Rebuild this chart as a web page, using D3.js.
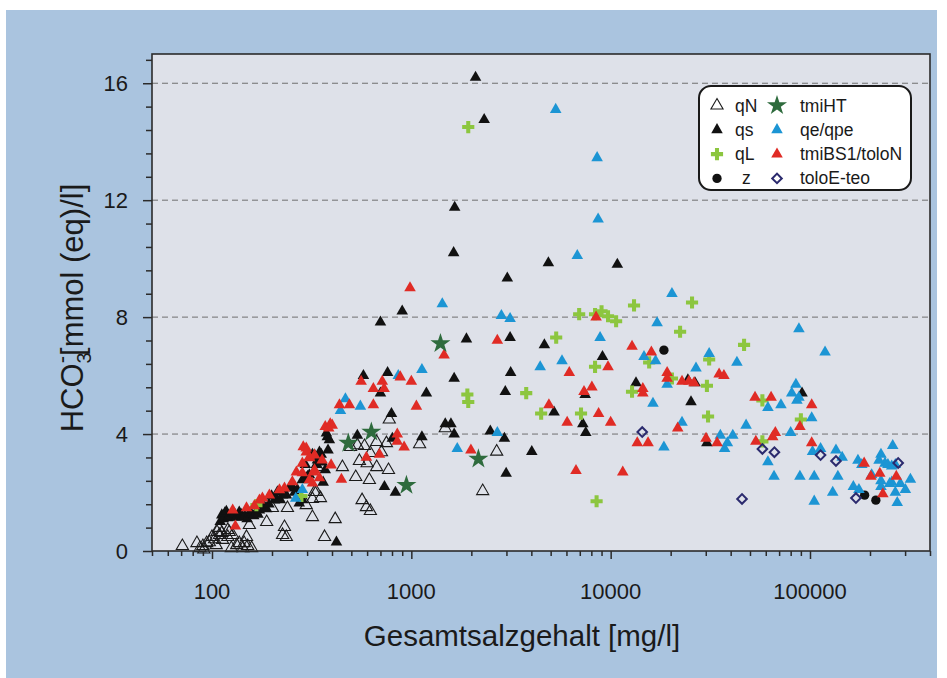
<!DOCTYPE html>
<html>
<head>
<meta charset="utf-8">
<script src="https://cdn.jsdelivr.net/npm/d3@7"></script>
<style>
  html, body { margin: 0; padding: 0; background: #ffffff; }
  svg { display: block; }
  text { font-family: "Liberation Sans", Arial, Helvetica, sans-serif; fill: #1a1a1a; }
</style>
</head>
<body>
<svg id="chart" width="947" height="678"></svg>
<script>
// Gesamtsalzgehalt [mg/l] vs. HCO3- [mmol(eq)/l], one array of [TDS, HCO3] pairs per group

const qN = [
  [71,0.17],[84,0.27],[87,0.1],[90,0.17],[91,0.05],[94,0.27],[97,0.3],[100,0.48],[103,0.4],[105,0.2],
  [106,0.65],[108,0.79],[109,0.55],[112,0.62],[113,0.38],[120,0.72],[120,0.48],[122,0.65],[127,0.55],
  [133,0.2],[137,0.27],[145,0.27],[149,0.48],[151,0.17],[154,0.89],[143,0.1],[125,0.1],[158,0.1],
  [188,0.99],[201,1.47],[226,0.55],[231,0.82],[236,0.48],[239,1.47],[297,1.57],[319,1.16],[334,2.02],
  [327,2.02],[319,1.78],[350,1.81],[415,1.09],[367,0.48],[338,2.87],[451,2.87],[526,2.53],[616,2.43],
  [549,3.08],[600,3.0],[623,3.35],[670,2.87],[768,2.77],[708,3.38],[670,3.73],[750,3.69],[582,3.59],
  [536,3.62],[496,3.56],[566,1.74],[595,1.5],[623,1.37],[775,4.5],[1480,4.2],[1100,3.65],[2680,3.4],
  [2280,2.05]
];

const qs = [
  [2100,16.2],[2320,14.75],[1650,11.75],[1630,10.2],[3030,9.33],[4870,9.85],[10800,9.8],[900,8.2],
  [700,7.83],[1890,7.25],[3130,7.3],[4650,7.05],[3150,6.1],[1640,5.9],[2960,5.45],[575,6.0],[760,6.1],
  [700,5.4],[1190,5.4],[795,4.7],[9100,6.65],[13400,5.75],[24400,5.85],[26500,5.75],[25300,5.1],
  [7450,5.35],[5200,4.75],[7250,4.35],[7500,4.05],[4020,3.4],[30400,3.7],[91200,5.4],[1480,4.35],
  [1580,4.35],[1640,4.0],[2490,4.1],[2930,3.85],[2990,2.65],[1130,3.9],[803,3.85],[536,3.95],[733,2.2],
  [832,2.0],[421,0.3],[319,3.3],[353,3.3],[294,2.95],[334,2.95],[302,2.55],[361,2.35],[284,1.75],
  [375,4.03],[379,3.9],[110,1.0],[112,1.23],[114,1.1],[116,1.3],[118,1.35],[120,1.13],[122,1.16],
  [125,1.2],[128,1.3],[130,1.26],[133,1.15],[137,1.33],[140,1.25],[142,1.16],[146,1.2],[150,1.1],
  [154,1.3],[158,1.26],[162,1.2],[167,1.33],[170,1.25],[173,1.4],[178,1.45],[184,1.5],[188,1.44],
  [193,1.6],[199,1.88],[206,1.74],[210,1.8],[213,2.02],[220,1.75],[226,1.91],[230,2.0],[236,1.91],
  [244,2.15],[253,2.19],[260,2.0],[268,2.1],[274,1.64],[284,2.43],[297,2.5],[308,2.6],[327,3.28],
  [338,3.11],[346,3.38],[357,3.04],[370,2.77],[382,3.45],[388,3.8]
];

const qL = [
  [1930,14.5],[1910,5.35],[1930,5.1],[3770,5.4],[4480,4.7],[5330,7.3],[6950,8.1],[8350,8.1],[9000,8.2],
  [9700,8.03],[10650,7.86],[13100,8.4],[25600,8.5],[22300,7.5],[46700,7.05],[31200,6.55],[15600,6.45],
  [8350,6.3],[20300,5.9],[30400,5.65],[12800,5.45],[7100,4.7],[30800,4.6],[57700,5.15],[57700,3.75],
  [90000,4.5],[8500,1.7],[281,1.88],[167,1.57]
];

const z = [[18500,6.87],[188000,1.91],[214000,1.74]];

const tmiHT = [[1400,7.1],[630,4.07],[483,3.69],[2170,3.15],[945,2.25]];

const qe = [
  [5300,15.1],[8550,13.45],[8650,11.35],[6800,10.1],[20300,8.8],[1430,8.45],[2830,8.05],[3130,7.95],
  [17100,7.8],[88000,7.6],[119000,6.8],[8850,7.3],[31200,6.75],[43000,6.45],[4430,6.3],[5700,6.5],
  [14700,6.65],[16800,6.5],[26800,6.25],[19200,5.7],[16300,5.05],[22800,4.4],[47800,4.3],[61500,4.9],
  [71500,5.0],[85000,5.7],[81000,5.4],[86000,5.15],[88000,5.25],[102000,4.55],[80000,4.05],[18500,3.55],
  [35500,3.95],[38500,3.7],[41000,3.95],[37300,3.5],[61500,3.05],[66000,2.55],[89000,2.55],[105000,2.55],
  [138000,2.55],[103000,3.4],[113000,3.5],[135000,3.45],[145000,3.2],[130000,2.0],[105000,1.7],
  [174000,3.1],[182000,2.95],[165000,2.2],[176000,2.1],[227000,3.3],[238000,3.0],[222000,3.1],
  [260000,3.6],[246000,2.95],[257000,2.9],[268000,2.95],[204000,2.6],[227000,2.4],[257000,2.35],
  [284000,2.3],[319000,2.45],[301000,2.1],[268000,2.0],[274000,1.65],[251000,2.3],[227000,2.2],
  [1700,3.5],[2700,4.05],[860,6.0],[1130,6.2],[467,5.2],[441,4.8],[555,4.95],[263,1.8],[284,2.1]
];

const tmiBS1 = [
  [985,9.0],[2700,7.2],[1460,6.7],[560,5.8],[645,5.55],[715,5.8],[730,5.55],[880,5.95],[1000,5.8],
  [1060,4.95],[436,5.0],[489,5.0],[645,5.0],[370,4.25],[392,4.35],[401,4.3],[385,4.2],[850,4.0],
  [850,3.75],[920,3.55],[595,3.2],[692,3.3],[446,2.45],[1990,3.45],[4900,5.0],[8450,8.0],[12800,7.0],
  [16000,6.8],[9700,6.3],[6200,6.1],[19200,6.1],[19200,5.9],[22800,5.8],[24700,5.8],[26200,5.75],
  [35000,6.05],[37000,6.0],[14500,5.55],[14500,5.4],[7350,5.45],[8050,5.6],[6050,4.4],[8700,4.7],
  [10000,4.4],[21700,4.2],[53000,5.25],[63800,5.25],[102000,5.0],[89000,4.25],[13600,3.7],[15400,3.7],
  [30100,3.85],[34200,3.7],[53500,3.75],[65000,3.9],[67000,4.05],[102000,3.7],[6700,2.75],[11500,2.7],
  [187000,3.0],[202000,2.55],[224000,2.65],[271000,2.55],[232000,1.95],
  [127,1.4],[131,0.85],[149,1.47],[163,1.54],[173,1.74],[179,1.81],[194,1.91],[218,2.09],[231,2.15],
  [253,2.36],[265,2.7],[284,3.0],[297,3.52],[308,3.21],[308,2.43],[327,2.77],[346,2.5],[287,3.56],
  [297,3.38],[308,3.18],[327,3.28],[357,3.11],[396,2.94],[323,2.7],[284,2.67],[319,2.32]
];

const toloE = [
  [14400,4.07],[45600,1.78],[57700,3.49],[66300,3.38],[113000,3.28],[135000,3.08],[170000,1.81],[277000,3.01]
];

const xMajor = [100, 1000, 10000, 100000];
const xMajorLabels = ["100", "1000", "10000", "100000"];
const yMajor = [0, 4, 8, 12, 16];
const yMajorLabels = ["0", "4", "8", "12", "16"];

const legendItems = [
  { key: "qN", col: 0, row: 0 },
  { key: "qs", col: 0, row: 1 },
  { key: "qL", col: 0, row: 2 },
  { key: "z", col: 0, row: 3 },
  { key: "tmiHT", col: 1, row: 0 },
  { key: "qe/qpe", col: 1, row: 1 },
  { key: "tmiBS1/toloN", col: 1, row: 2 },
  { key: "toloE-teo", col: 1, row: 3 }
];

// ---- layout ----
const svg = d3.select("#chart");
const plot = { left: 152, right: 930, top: 54, bottom: 551 };

const x = d3.scaleLog().domain([50, 400000]).range([plot.left, plot.right]);
const y = d3.scaleLinear().domain([0, 17]).range([plot.bottom, plot.top]);

// blue panel and plot background
svg.append("rect").attr("x", 6).attr("y", 10).attr("width", 931).attr("height", 678)
  .attr("fill", "#aac4df");
svg.append("rect").attr("x", plot.left).attr("y", plot.top)
  .attr("width", plot.right - plot.left).attr("height", plot.bottom - plot.top)
  .attr("fill", "#dee1e9");

// dashed grid at major y values
svg.append("g").selectAll("line").data(yMajor.filter(v => v > 0)).join("line")
  .attr("x1", plot.left).attr("x2", plot.right)
  .attr("y1", d => y(d)).attr("y2", d => y(d))
  .attr("stroke", "#6f6f6f").attr("stroke-width", 1).attr("stroke-dasharray", "6,4");

// symbol styles for each group
const sym = (type, size) => d3.symbol().type(type).size(size)();
const styles = {
  "qN":          { d: sym(d3.symbolTriangle, 64), fill: "none", stroke: "#1a1a1a", sw: 1.1 },
  "qs":          { d: sym(d3.symbolTriangle, 58), fill: "#111111", stroke: "none", sw: 0 },
  "qL":          { d: sym(d3.symbolCross, 82), fill: "#8cc63f", stroke: "none", sw: 0 },
  "z":           { d: sym(d3.symbolCircle, 68), fill: "#111111", stroke: "none", sw: 0 },
  "tmiHT":       { d: sym(d3.symbolStar, 125), fill: "#2e6b3d", stroke: "none", sw: 0 },
  "qe/qpe":      { d: sym(d3.symbolTriangle, 58), fill: "#1c95d4", stroke: "none", sw: 0 },
  "tmiBS1/toloN":{ d: sym(d3.symbolTriangle, 58), fill: "#e02b25", stroke: "none", sw: 0 },
  "toloE-teo":   { d: sym(d3.symbolSquare, 46), fill: "none", stroke: "#2b2a6e", sw: 2, rot: 45 }
};

const groups = [
  ["qN", qN], ["qs", qs], ["qL", qL], ["z", z], ["qe/qpe", qe],
  ["tmiBS1/toloN", tmiBS1], ["tmiHT", tmiHT], ["toloE-teo", toloE]
];

const marks = svg.append("g");
groups.forEach(([key, data]) => {
  const s = styles[key];
  marks.append("g").selectAll("path").data(data).join("path")
    .attr("d", s.d)
    .attr("transform", d => `translate(${x(d[0])},${y(d[1])})` + (s.rot ? ` rotate(${s.rot})` : ""))
    .attr("fill", s.fill).attr("stroke", s.stroke).attr("stroke-width", s.sw);
});

// plot frame
svg.append("rect").attr("x", plot.left).attr("y", plot.top)
  .attr("width", plot.right - plot.left).attr("height", plot.bottom - plot.top)
  .attr("fill", "none").attr("stroke", "#2b2b2b").attr("stroke-width", 1.6);

// x axis ticks (log): minor and major, outward
const xMinor = [];
for (let e = 1; e <= 5; e++) for (let m = 2; m <= 9; m++) {
  const v = m * Math.pow(10, e);
  if (v >= 50 && v <= 400000) xMinor.push(v);
}
const xAxisMinor = d3.axisBottom(x).tickValues(xMinor).tickSize(5).tickFormat("");
const xAxisMajor = d3.axisBottom(x).tickValues(xMajor).tickSize(8).tickFormat("");
[xAxisMinor, xAxisMajor].forEach(ax => {
  const g = svg.append("g").attr("transform", `translate(0,${plot.bottom})`).call(ax);
  g.select(".domain").remove();
  g.selectAll("line").attr("stroke", "#2b2b2b").attr("stroke-width", 1.5);
});
svg.append("g").selectAll("text").data(xMajor).join("text")
  .attr("x", d => x(d)).attr("y", 599)
  .attr("text-anchor", "middle").attr("font-size", 22)
  .text((d, i) => xMajorLabels[i]);

// y axis ticks: major every 4, four minor between
const yMinor = d3.range(0, 85).map(i => i * 0.2).filter(v => v <= 17 && Math.abs(v / 0.8 - Math.round(v / 0.8)) < 1e-6 && Math.abs(v / 4 - Math.round(v / 4)) > 1e-6);
const yAxisMinor = d3.axisLeft(y).tickValues(yMinor).tickSize(6).tickFormat("");
const yAxisMajor = d3.axisLeft(y).tickValues(yMajor).tickSize(9).tickFormat("");
[yAxisMinor, yAxisMajor].forEach(ax => {
  const g = svg.append("g").attr("transform", `translate(${plot.left},0)`).call(ax);
  g.select(".domain").remove();
  g.selectAll("line").attr("stroke", "#2b2b2b").attr("stroke-width", 1.5);
});
svg.append("g").selectAll("text").data(yMajor).join("text")
  .attr("x", 128).attr("y", d => y(d) + 8)
  .attr("text-anchor", "end").attr("font-size", 22)
  .text((d, i) => yMajorLabels[i]);

// axis titles
svg.append("text").attr("x", 522).attr("y", 646)
  .attr("text-anchor", "middle").attr("font-size", 29.5)
  .text("Gesamtsalzgehalt [mg/l]");

const yt = svg.append("text")
  .attr("transform", "translate(83,308) rotate(-90)")
  .attr("text-anchor", "middle").attr("font-size", 31);
yt.append("tspan").text("HCO");
yt.append("tspan").attr("font-size", 20).attr("dy", 8).text("3");
yt.append("tspan").attr("font-size", 22).attr("dx", -11).attr("dy", -22).text("-");
yt.append("tspan").attr("dy", 14).text("[mmol (eq)/l]");

// legend
const lg = svg.append("g");
lg.append("rect").attr("x", 699).attr("y", 86).attr("width", 212).attr("height", 104)
  .attr("rx", 12).attr("ry", 12)
  .attr("fill", "#ffffff").attr("stroke", "#1a1a1a").attr("stroke-width", 2);
const colSym = [717, 777], colTxt = [735, 800];
const rowY = r => 105.5 + r * 24.3;
legendItems.forEach(it => {
  const s = styles[it.key];
  const cx = colSym[it.col], cy = rowY(it.row);
  lg.append("path").attr("d", s.d)
    .attr("transform", `translate(${cx},${cy})` + (s.rot ? ` rotate(${s.rot})` : ""))
    .attr("fill", s.fill).attr("stroke", s.stroke).attr("stroke-width", s.sw);
  lg.append("text")
    .attr("x", it.key === "z" ? 742 : colTxt[it.col]).attr("y", cy + 6)
    .attr("font-size", 17.5).text(it.key);
});
</script>
</body>
</html>
